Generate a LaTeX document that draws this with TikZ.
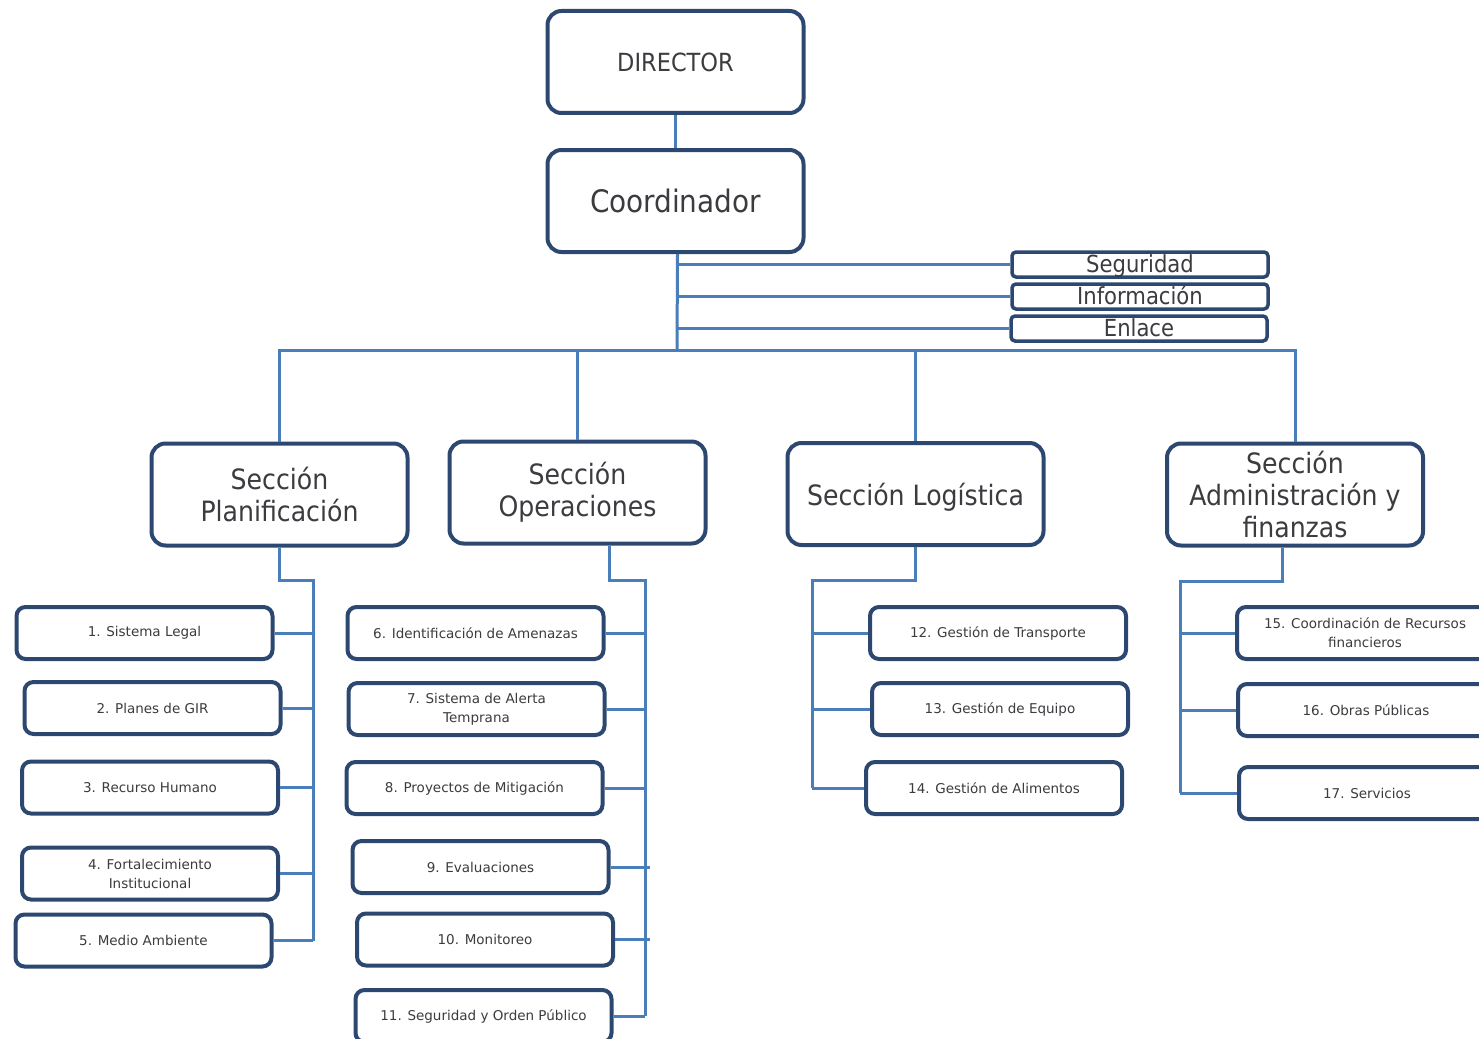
\documentclass[tikz,border=0pt]{standalone}
\usepackage{fontspec}
\setmainfont{DejaVu Sans}
\newfontfamily\headfont{DejaVu Sans Condensed}
\usetikzlibrary{calc}
\definecolor{boxline}{RGB}{44,72,112}
\definecolor{linkblue}{RGB}{74,126,187}
\definecolor{txtgray}{RGB}{60,60,64}
\tikzset{
  bigbox/.style={draw=boxline, line width=4pt, rounded corners=14pt, fill=white,
    minimum width=256, minimum height=102, align=center, text=txtgray, font=\headfont\fontsize{28}{32}\selectfont},
  staffbox/.style={draw=boxline, line width=3.5pt, rounded corners=4pt, fill=white, inner sep=0pt,
    minimum width=256, minimum height=25, text height=17pt, text depth=2pt, text=txtgray, font=\headfont\fontsize{23.5}{24}\selectfont},
  subbox/.style={draw=boxline, line width=4pt, rounded corners=9pt, fill=white,
    minimum width=256, minimum height=52, align=center, text=txtgray, font=\fontsize{13.5}{19}\selectfont},
  link/.style={draw=linkblue, line width=3pt}
}

\begin{document}
\begin{tikzpicture}[x=1pt, y=-1pt]
			%%%%% START %%%%%
			\useasboundingbox (0,0) rectangle (1479,1038);
			
			\node[bigbox, font=\headfont\fontsize{25}{30}\selectfont] (dir) at (675.5,62) {DIRECTOR};
			\node[bigbox, font=\headfont\fontsize{31}{36}\selectfont] (coord) at (675.5,201) {Coordinador};
			
			\node[staffbox] (seg) at (1140,264.5) {Seguridad};
			\node[staffbox] (inf) at (1140,296.5) {Información};
			\node[staffbox] (enl) at (1139,328.5) {Enlace};
			
			\node[bigbox] (plan) at (279.5,494.5) {Sección\\Planificación};
			\node[bigbox] (oper) at (577.5,492.5) {Sección\\Operaciones};
			\node[bigbox, text height=29pt] (logi) at (915.5,494) {Sección Logística};
			\node[bigbox] (admi) at (1295,494.5) {Sección\\Administración y\\finanzas};
			
			% planificacion
			\node[subbox] (p1) at (144.5,633) {1. Sistema Legal};
			\node[subbox] (p2) at (152.5,708) {2. Planes de GIR};
			\node[subbox] (p3) at (150,787.5) {3. Recurso Humano};
			\node[subbox] (p4) at (150,873.5) {4. Fortalecimiento\\Institucional};
			\node[subbox] (p5) at (143.5,940.5) {5. Medio Ambiente};
			
			% operaciones
			\node[subbox] (o6) at (475.5,633) {6. Identificación de Amenazas};
			\node[subbox] (o7) at (476.5,709) {7. Sistema de Alerta\\Temprana};
			\node[subbox] (o8) at (474.5,788) {8. Proyectos de Mitigación};
			\node[subbox] (o9) at (480.5,867) {9. Evaluaciones};
			\node[subbox] (o10) at (485,939.5) {10. Monitoreo};
			\node[subbox] (o11) at (483.5,1016) {11. Seguridad y Orden Público};
			
			% logistica
			\node[subbox] (l12) at (998,633) {12. Gestión de Transporte};
			\node[subbox] (l13) at (1000,709) {13. Gestión de Equipo};
			\node[subbox] (l14) at (994,788) {14. Gestión de Alimentos};
			
			% administracion
			\node[subbox] (a15) at (1365,633) {15. Coordinación de Recursos\\financieros};
			\node[subbox] (a16) at (1366,710) {16. Obras Públicas};
			\node[subbox] (a17) at (1367,793) {17. Servicios};
			
			%%%%% LINES %%%%%
			\coordinate (bus) at (677,350);
			\draw[link] (dir) -- (coord);
			\draw[link] ([xshift=2pt]coord.south) -- (bus);
			\foreach \s in {seg,inf,enl}
				\draw[link] (\s.west) -- (\s.west -| bus);
			
			\draw[link] (plan.north) |- (bus) -| (admi.north);
			\draw[link] (oper.north) -- (oper.north |- bus);
			\draw[link] (logi.north) -- (logi.north |- bus);
			
			\coordinate (pS) at (313,580);
			\draw[link] (plan.south) |- (pS) -- (pS |- p5.east);
			\foreach \n in {p1,p2,p3,p4,p5}
				\draw[link] (\n.east) -- (\n.east -| pS);
			
			\coordinate (oS) at (645,580);
			\coordinate (oT) at (650,580);
			\draw[link] ([xshift=32pt]oper.south) |- (oS) -- (oS |- o11.east);
			\foreach \n in {o6,o7,o8,o11}
				\draw[link] (\n.east) -- (\n.east -| oS);
			\foreach \n in {o9,o10}
				\draw[link] (\n.east) -- (\n.east -| oT);
			
			\coordinate (lS) at (812,580);
			\draw[link] (logi.south) |- (lS) -- (lS |- l14.west);
			\foreach \n in {l12,l13,l14}
				\draw[link] (\n.west) -- (\n.west -| lS);
			
			\coordinate (aS) at (1180,581);
			\draw[link] ([xshift=-13pt]admi.south) |- (aS) -- (aS |- a17.west);
			\foreach \n in {a15,a16,a17}
				\draw[link] (\n.west) -- (\n.west -| aS);
			
			%%%%% END %%%%%
		\end{tikzpicture}
\end{document}
